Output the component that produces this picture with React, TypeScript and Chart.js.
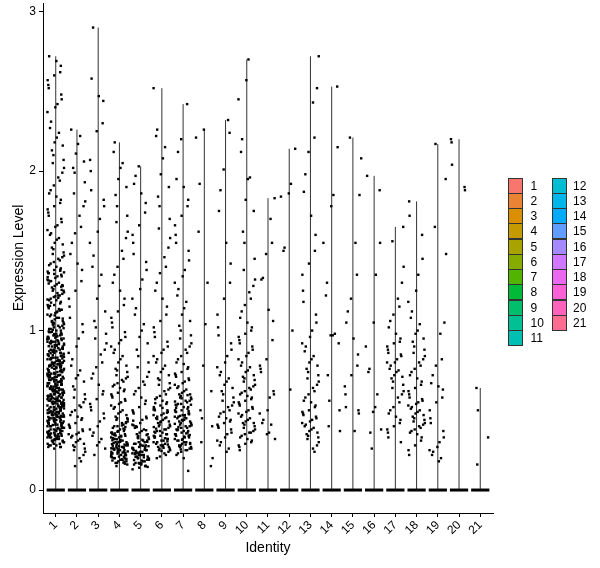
import { useEffect, useRef } from "react";
import { Chart, registerables } from "chart.js";

Chart.register(...registerables);

const CLUSTERS = ["1","2","3","4","5","6","7","8","9","10","11","12","13","14","15","16","17","18","19","20","21"];

const COLORS = ["#F8766D","#EB8335","#DA8F00","#C49A00","#A9A300","#86AC00","#53B400","#00BA38","#00BE6C","#00C094","#00C0B4","#00BDD1","#00B6EB","#00ABFD","#619CFF","#A58AFF","#D078FD","#EB69EE","#FB61D7","#FF62BA","#FF6C90"];

const Y_TICKS = [0, 1, 2, 3];

const C1 = [2.72,2.69,2.66,2.62,2.6,2.57,2.54,2.52,2.48,2.45,2.42,2.4,2.37,2.31,2.27,2.24,2.21,2.18,2.16,2.13,2.1,2.07,2.05,2.02,1.99,1.96,1.94,1.91,1.88,1.86,1.84,1.82,1.8,1.78,1.76,1.74,1.72,1.7,1.68,1.66,1.65,1.63,1.61,1.6,1.58,1.57,1.55,1.54,1.52,1.51,1.49,1.48,1.47,1.46,1.45,1.44,1.43,1.42,1.41,
1.4,1.39,1.38,1.38,1.37,1.36,1.36,1.35,1.34,1.34,1.33,1.32,1.31,1.31,1.3,1.29,1.28,1.28,1.27,1.26,1.25,1.25,1.24,1.23,1.22,1.22,1.21,1.2,1.19,1.19,1.18,1.17,1.16,1.16,1.15,1.14,1.13,1.13,1.12,1.11,1.1,1.1,1.09,1.08,1.08,1.07,1.06,1.06,1.05,1.05,1.04,1.04,1.03,1.03,1.02,1.02,1.01,1.01,1.0,1.0,
1.375,1.355,1.335,1.315,1.295,1.275,1.255,1.235,1.215,1.195,1.175,1.155,1.135,1.115,1.095,1.075,1.055,1.035,1.015,1.005,1.365,1.285,1.205,1.125,1.045,
0.99,0.99,0.98,0.98,0.97,0.97,0.96,0.96,0.95,0.95,0.94,0.94,0.93,0.93,0.92,0.92,0.92,0.91,0.91,0.9,0.9,0.97,0.95,0.93,0.91,
0.89,0.89,0.88,0.88,0.88,0.87,0.87,0.86,0.86,0.86,0.85,0.85,0.84,0.84,0.84,0.83,0.83,0.82,0.82,0.82,0.81,0.81,0.8,0.8,0.8,0.87,0.85,0.83,0.81,0.89,
0.79,0.79,0.78,0.78,0.78,0.77,0.77,0.77,0.76,0.76,0.75,0.75,0.75,0.74,0.74,0.73,0.73,0.73,0.72,0.72,0.71,0.71,0.71,0.7,0.7,0.7,0.79,0.76,0.74,0.72,0.78,0.73,
0.69,0.69,0.69,0.68,0.68,0.68,0.67,0.67,0.67,0.66,0.66,0.66,0.65,0.65,0.65,0.64,0.64,0.64,0.63,0.63,0.63,0.62,0.62,0.62,0.61,0.61,0.61,0.6,0.6,0.6,0.67,0.65,0.63,0.68,0.62,
0.59,0.59,0.59,0.58,0.58,0.58,0.57,0.57,0.57,0.56,0.56,0.56,0.55,0.55,0.55,0.54,0.54,0.54,0.53,0.53,0.53,0.52,0.52,0.52,0.51,0.51,0.51,0.5,0.5,0.5,0.58,0.56,0.54,0.52,0.57,0.55,0.53,0.59,
0.49,0.49,0.49,0.48,0.48,0.48,0.47,0.47,0.47,0.46,0.46,0.46,0.45,0.45,0.45,0.44,0.44,0.44,0.43,0.43,0.43,0.42,0.42,0.42,0.41,0.41,0.41,0.4,0.4,0.4,0.48,0.46,0.44,0.42,0.47,0.45,0.43,0.49,
0.39,0.39,0.39,0.38,0.38,0.38,0.37,0.37,0.37,0.36,0.36,0.36,0.35,0.35,0.35,0.34,0.34,0.34,0.33,0.33,0.33,0.32,0.32,0.32,0.31,0.31,0.31,0.3,0.3,0.3,0.37,0.35,
0.29,0.29,0.28,0.28,0.28,0.27,0.27,0.26,0.29,0.27,
0.995,0.985,0.975,0.965,0.955,0.945,0.935,0.925,0.915,0.905,0.895,0.885,0.875,0.865,0.855,0.845,0.835,0.825,0.815,0.805,
0.795,0.785,0.775,0.765,0.755,0.745,0.735,0.725,0.715,0.705,0.695,0.685,0.675,0.665,0.655,0.645,0.635,0.625,0.615,0.605,
0.595,0.585,0.575,0.565,0.555,0.545,0.535,0.525,0.515,0.505,0.495,0.485,0.475,0.465,0.455,0.445,0.435,0.425,0.415,0.405,
0.395,0.385,0.375,0.365,0.355,0.345,0.335,0.325,0.315,0.305,0.992,0.872,0.752,0.632,0.512,0.392,0.932,0.812,0.692,0.572,
0.452,0.962,0.842,0.722,0.602,0.482,0.362,0.902,0.782,0.662,0.542,0.422,0.948,0.828,0.708,0.588,0.468,0.348,0.888,0.768,
0.648,0.528,0.408,0.918,0.798,0.678,0.558,0.438,0.858,0.738,0.618,0.498,0.378,0.978,0.718,0.458,0.338,0.548,0.668,0.788];

const C2 = [2.26,2.22,2.17,2.11,2.06,2.02,1.99,1.93,1.86,1.81,1.78,1.72,1.65,1.61,1.55,1.48,1.42,1.38,1.31,1.25,1.2,1.15,1.08,1.04,0.99,0.95,0.9,0.86,0.82,0.78,0.75,0.72,0.7,0.68,0.65,0.63,0.6,0.58,0.57,0.55,0.53,0.52,0.5,0.49,0.47,0.46,0.45,0.44,0.42,0.41,0.4,0.39,0.38,0.37,0.36,0.35,0.35,0.34,0.33,0.32,0.31,0.3,0.29,0.28,0.27,0.26,0.25,0.24,0.22,0.2,0.18,0.15];

const C3 = [2.9,2.58,2.47,2.44,2.3,2.25,2.07,2.0,1.88,1.82,1.78,1.7,1.62,1.55,1.47,1.4,1.35,1.28,1.2,1.12,1.06,1.02,0.98,0.95,0.92,0.88,0.85,0.8,0.77,0.73,0.7,0.66,0.62,0.6,0.57,0.54,0.52,0.5,0.48,0.45,0.43,0.4,0.38,0.36,0.34,0.32,0.3,0.28,0.26,0.22];

const C4 = [2.18,2.12,2.05,2.02,1.95,1.9,1.85,1.78,1.72,1.68,1.62,1.58,1.5,1.45,1.4,1.35,1.3,1.25,1.2,1.16,1.12,1.08,1.05,1.02,0.99,0.96,0.94,0.92,0.9,0.88,0.86,0.84,0.82,0.8,0.78,0.76,0.75,0.74,0.72,0.71,0.7,0.69,0.68,0.67,0.66,0.65,0.64,0.63,0.62,0.61,0.6,0.59,0.58,0.57,0.56,0.55,0.54,0.53,0.52,0.51,0.5,0.49,0.48,0.47,0.46,0.45,0.45,0.44,0.43,0.42,0.42,0.41,0.4,0.4,0.39,0.38,0.38,0.37,0.37,0.36,0.36,0.35,0.35,0.34,0.34,0.33,0.33,0.32,0.32,0.31,0.31,0.3,0.3,0.3,0.29,0.29,0.28,0.28,0.28,0.27,0.27,0.26,0.26,0.26,0.25,0.25,0.24,0.24,0.24,0.23,0.23,0.22,0.22,0.22,0.21,0.21,0.2,0.2,0.19,0.19,0.18,0.18,0.17,0.17,0.16,0.15,
0.445,0.425,0.405,0.385,0.365,0.345,0.325,0.305,0.285,0.265,0.245,0.225,0.205,0.185,0.165,0.395,0.335,0.275,0.215,0.355,0.295,0.235,0.315,0.255,0.195,
0.342,0.318,0.292,0.268,0.242,0.218,0.192,0.172,0.228,0.252,0.278,0.302,0.178,0.208,0.238,0.262,0.288,0.312,0.198,0.232];

const C5 = [2.03,1.97,1.92,1.86,1.8,1.74,1.66,1.6,1.55,1.48,1.43,1.38,1.32,1.26,1.2,1.14,1.1,1.04,1.0,0.96,0.92,0.88,0.84,0.8,0.77,0.74,0.71,0.68,0.66,0.64,0.62,0.6,0.58,0.56,0.54,0.52,0.5,0.49,0.48,0.46,0.45,0.44,0.42,0.41,0.4,0.39,0.38,0.37,0.36,0.35,0.35,0.34,0.33,0.33,0.32,0.31,0.31,0.3,0.3,0.29,0.29,0.28,0.28,0.27,0.27,0.26,0.26,0.25,0.25,0.25,0.24,0.24,0.23,0.23,0.23,0.22,0.22,0.22,0.21,0.21,0.2,0.2,0.2,0.19,0.19,0.18,0.18,0.17,0.17,0.16,0.16,0.15,0.15,0.14,0.13,
0.435,0.405,0.375,0.345,0.315,0.285,0.265,0.245,0.225,0.205,0.185,0.165,0.145,0.395,0.325,0.275,0.235,0.195,
0.302,0.278,0.252,0.228,0.208,0.188,0.168,0.152,0.262,0.218];

const C6 = [2.52,2.26,2.22,2.15,2.08,1.98,1.9,1.84,1.78,1.7,1.64,1.58,1.52,1.46,1.4,1.36,1.3,1.25,1.2,1.15,1.1,1.06,1.02,0.99,0.96,0.93,0.9,0.88,0.86,0.84,0.82,0.8,0.78,0.76,0.74,0.72,0.7,0.69,0.67,0.66,0.64,0.63,0.62,0.6,0.59,0.58,0.57,0.56,0.55,0.54,0.53,0.52,0.51,0.5,0.5,0.49,0.48,0.47,0.47,0.46,0.45,0.45,0.44,0.43,0.43,0.42,0.41,0.41,0.4,0.4,0.39,0.38,0.38,0.37,0.37,0.36,0.36,0.35,0.35,0.34,0.34,0.33,0.33,0.32,0.32,0.31,0.31,0.3,0.3,0.29,0.29,0.28,0.28,0.27,0.27,0.26,0.26,0.25,0.25,0.24,0.23,0.22,0.21,0.2,
0.545,0.515,0.485,0.455,0.425,0.395,0.365,0.335,0.305,0.285,0.265,0.245,0.505,0.445,0.385,0.325,0.275];

const C7 = [2.42,2.2,2.12,1.95,1.9,1.82,1.78,1.72,1.66,1.6,1.55,1.5,1.44,1.38,1.34,1.3,1.26,1.22,1.18,1.14,1.1,1.06,1.03,1.0,0.97,0.95,0.92,0.9,0.88,0.86,0.84,0.82,0.8,0.79,0.77,0.76,0.74,0.73,0.72,0.71,0.7,0.69,0.68,0.67,0.66,0.65,0.64,0.63,0.62,0.61,0.6,0.6,0.59,0.58,0.58,0.57,0.56,0.56,0.55,0.54,0.54,0.53,0.52,0.52,0.51,0.5,0.5,0.49,0.49,0.48,0.48,0.47,0.47,0.46,0.46,0.45,0.45,0.44,0.44,0.43,0.43,0.42,0.42,0.41,0.41,0.4,0.4,0.39,0.39,0.38,0.38,0.37,0.37,0.36,0.36,0.35,0.35,0.34,0.34,0.33,0.33,0.32,0.32,0.31,0.31,0.3,0.3,0.29,0.29,0.28,0.28,0.27,0.27,0.26,0.26,0.25,0.25,0.24,0.23,0.22,0.2,0.12,
0.595,0.575,0.555,0.535,0.515,0.495,0.475,0.455,0.435,0.415,0.395,0.375,0.355,0.335,0.315,0.295,0.275,0.255,0.535,0.465,0.405,0.345,0.285];

const C8 = [2.26,2.21,1.92,1.62,1.3,1.04,0.78,0.62,0.5,0.45,0.4,0.3,0.2,0.15];

const C9 = [2.32,2.24,2.01,1.88,1.75,1.55,1.42,1.3,1.2,1.1,1.02,0.97,0.92,0.88,0.84,0.8,0.77,0.74,0.72,0.7,0.68,0.66,0.64,0.62,0.6,0.58,0.56,0.55,0.53,0.52,0.5,0.49,0.48,0.46,0.45,0.44,0.43,0.42,0.41,0.4,0.39,0.38,0.36,0.35,0.33,0.31,0.3,0.28,0.26,0.24];

const C10 = [2.7,2.57,2.45,2.2,2.12,1.96,1.95,1.82,1.75,1.62,1.55,1.45,1.38,1.32,1.28,1.24,1.2,1.16,1.12,1.08,1.05,1.02,1.0,0.98,0.96,0.94,0.92,0.9,0.88,0.86,0.84,0.82,0.8,0.78,0.77,0.75,0.74,0.72,0.71,0.7,0.69,0.68,0.66,0.65,0.64,0.63,0.62,0.61,0.6,0.59,0.58,0.57,0.56,0.55,0.54,0.53,0.52,0.51,0.5,0.49,0.48,0.47,0.46,0.45,0.44,0.43,0.42,0.42,0.41,0.4,0.39,0.38,0.37,0.36,0.36,0.35,0.34,0.33,0.32,0.31,0.3,0.29,0.28,0.27,0.25];

const C11 = [1.83,1.7,1.55,1.48,1.33,1.32,1.13,1.06,0.94,0.82,0.78,0.76,0.74,0.62,0.6,0.58,0.5,0.48,0.44,0.42,0.41,0.36,0.35,0.32];

const C12 = [2.14,1.92,1.86,1.84,1.52,1.5,1.0,0.63];

const C13 = [2.72,2.52,2.43,2.21,2.12,1.98,1.87,1.72,1.6,1.5,1.42,1.35,1.25,1.18,1.1,1.05,1.0,0.96,0.92,0.9,0.87,0.84,0.82,0.8,0.78,0.76,0.74,0.72,0.7,0.68,0.66,0.64,0.62,0.6,0.58,0.56,0.55,0.53,0.52,0.5,0.49,0.48,0.47,0.46,0.45,0.44,0.43,0.42,0.41,0.4,0.39,0.38,0.37,0.36,0.35,0.34,0.33,0.32,0.3,0.28,0.26,0.24];

const C14 = [2.53,2.15,1.85,1.78,1.55,1.3,1.22,0.98,0.97,0.97,0.92,0.72,0.56,0.5,0.4,0.37];

const C15 = [2.21,2.08,1.85,1.55,1.35,1.2,1.12,1.05,0.95,0.85,0.78,0.72,0.65,0.6,0.52,0.5,0.48,0.37];

const C16 = [1.97,1.88,1.55,1.35,1.05,0.9,0.76,0.74,0.6,0.52,0.49,0.38,0.36,0.26];

const C17 = [1.65,1.56,1.4,1.3,1.2,1.15,1.1,1.06,1.02,0.98,0.95,0.93,0.92,0.9,0.88,0.86,0.85,0.84,0.82,0.8,0.8,0.78,0.76,0.75,0.74,0.72,0.71,0.7,0.68,0.66,0.64,0.62,0.6,0.58,0.55,0.52,0.5,0.48,0.46,0.44,0.42,0.4,0.38,0.36,0.33,0.3];

const C18 = [1.81,1.72,1.6,1.45,1.35,1.25,1.18,1.12,1.08,1.04,1.0,0.98,0.95,0.93,0.9,0.88,0.86,0.84,0.82,0.8,0.78,0.76,0.74,0.72,0.7,0.68,0.66,0.64,0.62,0.6,0.58,0.57,0.56,0.55,0.54,0.53,0.52,0.51,0.5,0.49,0.48,0.47,0.46,0.45,0.44,0.43,0.42,0.41,0.4,0.39,0.38,0.37,0.36,0.35,0.33,0.31,0.28,0.25,0.22];

const C19 = [2.17,1.95,1.65,1.48,1.05,0.98,0.82,0.78,0.72,0.67,0.65,0.63,0.58,0.55,0.5,0.45,0.42,0.37,0.33,0.3,0.27,0.25,0.24,0.22,0.2,0.18];

const C20 = [2.2,2.18,2.04,1.9,1.88];

const C21 = [0.64,0.5,0.33,0.16];

const EXPRESSION = [C1,C2,C3,C4,C5,C6,C7,C8,C9,C10,C11,C12,C13,C14,C15,C16,C17,C18,C19,C20,C21];

// horizontal jitter offsets (in category units), cycled over the cells of each identity
const JITTER = [-0.31,0.12,0.37,-0.05,-0.22,0.28,-0.38,0.03,0.19,-0.14,0.33,-0.27,0.08,-0.35,0.24,-0.09,0.39,-0.18,0.15,-0.02,-0.33,0.21,-0.24,0.31,-0.11,0.05,-0.39,0.26,-0.07];

const FONT = "'Liberation Sans', Arial, Helvetica, sans-serif";

export default function App() {
  const ref = useRef<HTMLCanvasElement>(null);

  useEffect(() => {
    if (!ref.current) return;
    const points: { x: number; y: number }[] = [];
    EXPRESSION.forEach((vals, ci) => {
      vals.forEach((v, j) => {
        points.push({ x: ci + 1 + JITTER[(j * 7 + ci * 11) % JITTER.length], y: v });
      });
    });

    const zeroBars = EXPRESSION.map((_, ci) => ({
      data: [
        { x: ci + 1 - 0.43, y: 0 },
        { x: ci + 1 + 0.43, y: 0 },
      ],
      showLine: true,
      borderColor: "#000",
      borderWidth: 3,
      borderCapStyle: "butt" as const,
      pointRadius: 0,
      pointHoverRadius: 0,
    }));

    const violins = EXPRESSION.map((vals, ci) => ({
      data: [
        { x: ci + 1, y: 0 },
        { x: ci + 1, y: Math.max(...vals) },
      ],
      showLine: true,
      borderColor: "#333333",
      borderWidth: 1,
      pointRadius: 0,
      pointHoverRadius: 0,
    }));

    const zeroPad = (s: any) => {
      s.paddingTop = 0;
      s.paddingBottom = 0;
      s.paddingLeft = 0;
      s.paddingRight = 0;
    };

    const chart = new Chart(ref.current, {
      type: "scatter",
      data: {
        datasets: [
          {
            data: points,
            pointStyle: "rect",
            pointRadius: 1.7,
            pointHoverRadius: 1.7,
            pointBackgroundColor: "#000",
            pointBorderWidth: 0,
            borderWidth: 0,
          },
          ...zeroBars,
          ...violins,
        ] as any,
      },
      options: {
        animation: false,
        responsive: false,
        maintainAspectRatio: false,
        events: [],
        layout: { padding: { top: 3, right: 107, left: 0, bottom: 0 } },
        plugins: {
          legend: { display: false },
          tooltip: { enabled: false },
        },
        scales: {
          x: {
            type: "linear",
            min: 0.4,
            max: 21.6,
            afterBuildTicks: (s: any) => {
              s.ticks = CLUSTERS.map((_, i) => ({ value: i + 1 }));
            },
            afterFit: (s: any) => {
              s.height = 55;
              zeroPad(s);
            },
            ticks: {
              autoSkip: false,
              maxRotation: 45,
              minRotation: 45,
              padding: 1,
              color: "#000",
              font: { family: FONT, size: 12 },
              callback: (v: any) => CLUSTERS[Math.round(Number(v)) - 1] ?? "",
            },
            grid: {
              display: true,
              drawOnChartArea: false,
              drawTicks: true,
              tickLength: 4,
              tickColor: "#000",
              tickWidth: 1,
            },
            border: { display: true, color: "#000", width: 1 },
            title: {
              display: true,
              text: "Identity",
              color: "#000",
              font: { family: FONT, size: 14 },
              padding: { top: 2, bottom: 11.6 },
            },
          },
          y: {
            type: "linear",
            min: -0.144,
            max: 3.054,
            afterBuildTicks: (s: any) => {
              s.ticks = Y_TICKS.map((v) => ({ value: v }));
            },
            afterFit: (s: any) => {
              s.width = 43;
              zeroPad(s);
            },
            ticks: {
              padding: 3,
              color: "#000",
              font: { family: FONT, size: 12 },
              callback: (v: any) => String(v),
            },
            grid: {
              display: true,
              drawOnChartArea: false,
              drawTicks: true,
              tickLength: 4,
              tickColor: "#000",
              tickWidth: 1,
            },
            border: { display: true, color: "#000", width: 1 },
            title: {
              display: true,
              text: "Expression Level",
              color: "#000",
              font: { family: FONT, size: 14 },
              padding: { top: 10.6, bottom: 0 },
            },
          },
        },
      },
    });
    return () => chart.destroy();
  }, []);

  const keyTop = 177.7;
  const rowH = 15.25;

  return (
    <div style={{ position: "absolute", left: 0, top: 0, width: 600, height: 568, background: "#fff", fontFamily: FONT }}>
      <canvas ref={ref} width={600} height={568} style={{ position: "absolute", left: 0, top: 0, width: 600, height: 568 }} />
      {CLUSTERS.map((c, i) => {
        const col = i < 11 ? 0 : 1;
        const row = col === 0 ? i : i - 11;
        const keyLeft = col === 0 ? 507.5 : 551.5;
        const textLeft = col === 0 ? 530.5 : 573;
        const top = keyTop + row * rowH;
        return (
          <div key={c}>
            <div
              style={{
                position: "absolute",
                left: keyLeft,
                top,
                width: 15,
                height: 16,
                boxSizing: "border-box",
                border: "1px solid #333",
                background: COLORS[i],
              }}
            />
            <div
              style={{
                position: "absolute",
                left: textLeft,
                top: top + 1,
                height: 15,
                lineHeight: "15px",
                fontSize: 12,
                color: "#000",
                whiteSpace: "nowrap",
              }}
            >
              {c}
            </div>
          </div>
        );
      })}
    </div>
  );
}
